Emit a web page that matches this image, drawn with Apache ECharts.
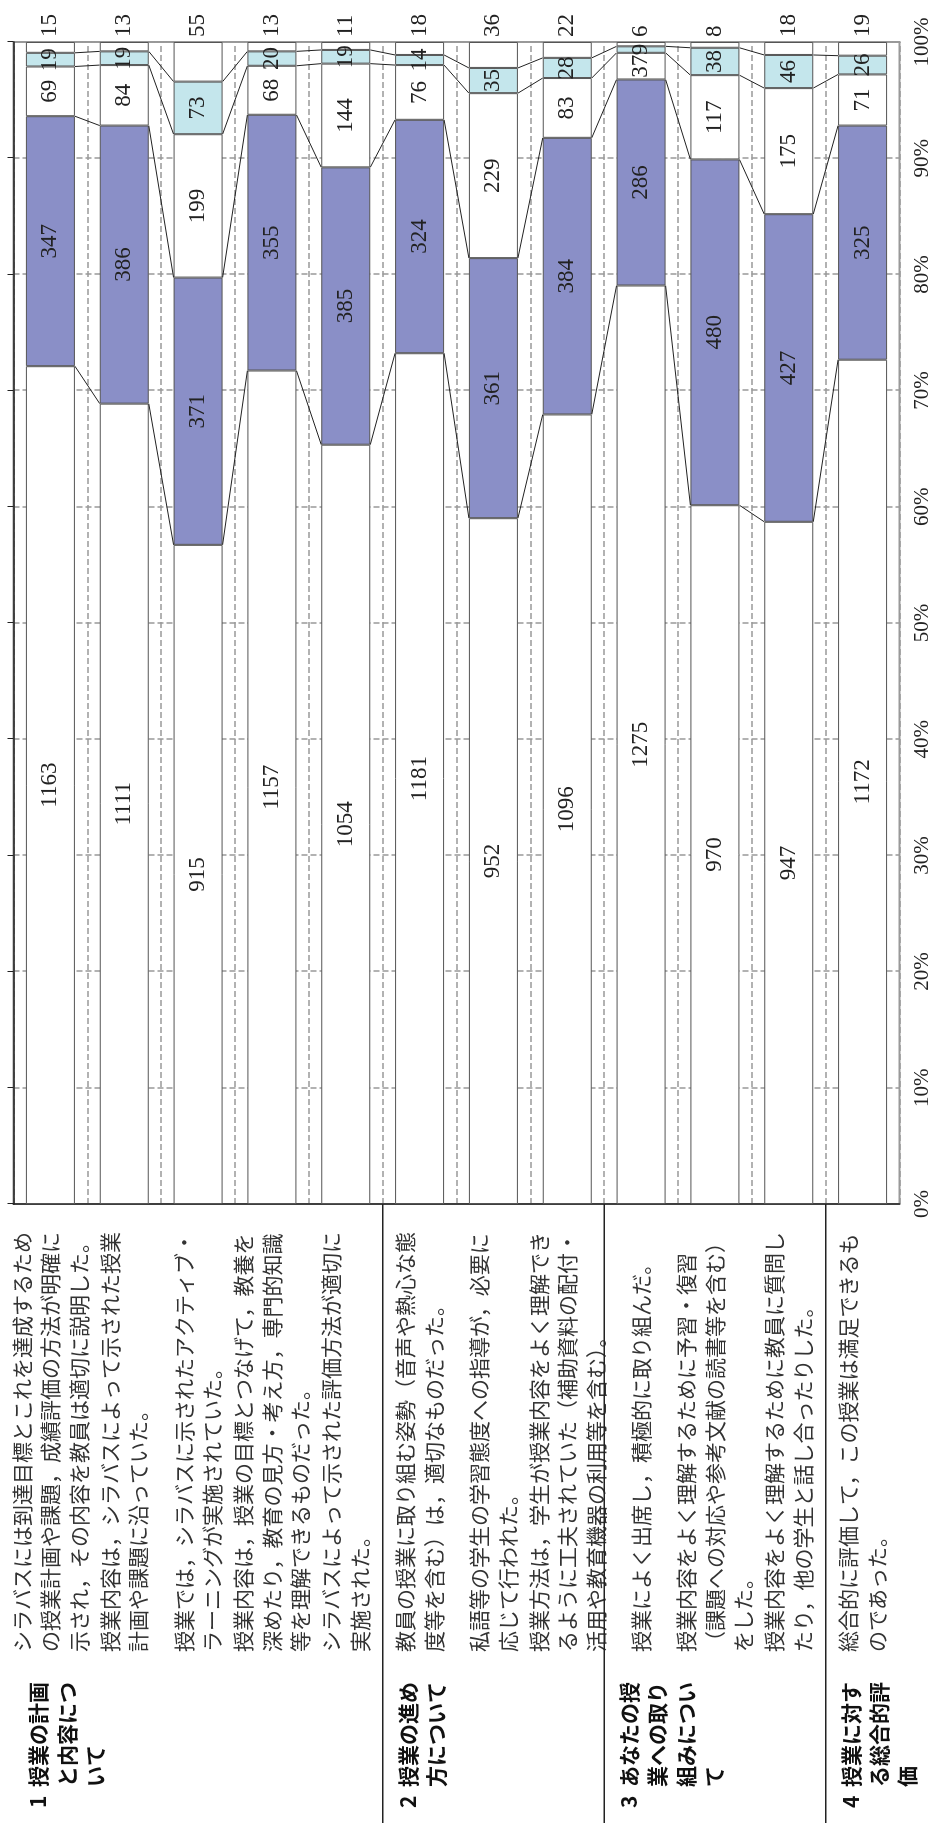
<!DOCTYPE html>
<html lang="ja">
<head>
<meta charset="utf-8">
<title>授業評価アンケート</title>
<script src="https://cdn.jsdelivr.net/npm/echarts@6.0.0/dist/echarts.min.js"></script>
<style>
html, body { margin: 0; padding: 0; width: 937px; height: 1827px; overflow: hidden; background: #fff; }
/* the chart is laid out landscape and turned a quarter turn to the left */
#chart { position: absolute; left: 0; top: 0; width: 1827px; height: 937px; transform-origin: 0 0; transform: translateY(1827px) rotate(-90deg); }
</style>
</head>
<body>
<div id="chart"></div>
<script>
const questions = [
  'シラバスには到達目標とこれを達成するため\nの授業計画や課題，成績評価の方法が明確に\n示され，その内容を教員は適切に説明した。',
  '授業内容は，シラバスによって示された授業\n計画や課題に沿っていた。',
  '授業では，シラバスに示されたアクティブ・\nラーニングが実施されていた。',
  '授業内容は，授業の目標とつなげて，教養を\n深めたり，教育の見方・考え方，専門的知識\n等を理解できるものだった。',
  'シラバスによって示された評価方法が適切に\n実施された。',
  '教員の授業に取り組む姿勢（音声や熱心な態\n度等を含む）は，適切なものだった。',
  '私語等の学生の学習態度への指導が，必要に\n応じて行われた。',
  '授業方法は，学生が授業内容をよく理解でき\nるように工夫されていた（補助資料の配付・\n活用や教育機器の利用等を含む）。',
  '授業によく出席し，積極的に取り組んだ。',
  '授業内容をよく理解するために予習・復習\n（課題への対応や参考文献の読書等を含む）\nをした。',
  '授業内容をよく理解するために教員に質問し\nたり，他の学生と話し合ったりした。',
  '総合的に評価して，この授業は満足できるも\nのであった。'
];

const groupNos = ['1', '2', '3', '4'];
const groupNames = [
  '授業の計画\nと内容につ\nいて',
  '授業の進め\n方について',
  'あなたの授\n業への取り\n組みについ\nて',
  '授業に対す\nる総合的評\n価'
];
const groupSizes = [5, 3, 3, 1];

// answer counts, one array per answer choice
const resp1 = [1163, 1111, 915, 1157, 1054, 1181, 952, 1096, 1275, 970, 947, 1172];
const resp2 = [347, 386, 371, 355, 385, 324, 361, 384, 286, 480, 427, 325];
const resp3 = [69, 84, 199, 68, 144, 76, 229, 83, 37, 117, 175, 71];
const resp4 = [19, 19, 73, 20, 19, 14, 35, 28, 9, 38, 46, 26];
const resp5 = [15, 13, 55, 13, 11, 18, 36, 22, 6, 8, 18, 19];

const respAll = [resp1, resp2, resp3, resp4, resp5];
const totals = questions.map((_, i) => respAll.reduce((s, r) => s + r[i], 0));
const pct = respAll.map(r => r.map((v, i) => v / totals[i] * 100));
const cum = [];
let run = totals.map(() => 0);
pct.forEach(p => { run = run.map((v, i) => v + p[i]); cum.push(run.slice()); });

const groupStarts = groupSizes.map((_, g) => groupSizes.slice(0, g).reduce((a, b) => a + b, 0));

const fills = ['#ffffff', '#8a8fc7', '#ffffff', '#c4e6ec', '#ffffff'];
const barHalf = 24.5;
const jp = '"Noto Sans CJK JP", "Noto Sans CJK SC", sans-serif';
const num = '"Liberation Serif", "DejaVu Serif", serif';

const barSeries = respAll.map((r, k) => ({
  type: 'bar',
  stack: 'all',
  barWidth: 49,
  data: pct[k],
  itemStyle: { color: fills[k], borderColor: '#555', borderWidth: 1 },
  label: {
    show: true,
    position: k === 4 ? 'right' : 'inside',
    distance: 5,
    formatter: p => r[p.dataIndex],
    fontFamily: num,
    fontSize: 23,
    color: '#222'
  },
  emphasis: { disabled: true }
}));

// excel style series lines between neighbouring bars
const seriesLines = {
  type: 'custom',
  silent: true,
  z: 3,
  data: questions.slice(0, -1).map((_, i) => [cum[0][i], i]),
  encode: { x: 0, y: 1 },
  renderItem: (params, api) => {
    const i = params.dataIndex;
    return {
      type: 'group',
      children: [0, 1, 2, 3].map(k => {
        const a = api.coord([cum[k][i], i]);
        const b = api.coord([cum[k][i + 1], i + 1]);
        return {
          type: 'line',
          shape: { x1: a[0], y1: a[1] + barHalf, x2: b[0], y2: b[1] - barHalf },
          style: { stroke: '#222', lineWidth: 1 }
        };
      })
    };
  }
};

// group headings and the rules between groups
const groupSeries = {
  type: 'custom',
  silent: true,
  clip: false,
  data: groupStarts.map(s => [0, s]),
  encode: { x: 0, y: 1 },
  renderItem: (params, api) => {
    const g = params.dataIndex;
    const c = api.coord([0, groupStarts[g]]);
    const band = api.size([0, 1])[1];
    const top = c[1] - band / 2;
    const children = [
      {
        type: 'text', x: 19, y: top + 25,
        style: { text: groupNos[g], fontSize: 21, fontWeight: 'bold', fontFamily: jp, fill: '#111', verticalAlign: 'middle' }
      },
      {
        type: 'text', x: 40, y: top + 25 - 14.15,
        style: { text: groupNames[g], fontSize: 21, fontWeight: 'bold', fontFamily: jp, lineHeight: 28.3, fill: '#111', verticalAlign: 'top' }
      }
    ];
    if (g > 0) {
      children.push({
        type: 'line',
        shape: { x1: 4, y1: top, x2: c[0], y2: top },
        style: { stroke: '#222', lineWidth: 1.5 }
      });
    }
    return { type: 'group', children };
  }
};

const option = {
  animation: false,
  backgroundColor: '#fff',
  grid: {
    left: 623, right: 42, top: 13.5, bottom: 37.5,
    show: true, borderColor: '#999', borderWidth: 2,
    outerBoundsMode: 'none'
  },
  xAxis: [
    {
      type: 'value', min: 0, max: 100, interval: 10, position: 'bottom',
      axisLine: { show: false }, axisTick: { show: false },
      axisLabel: { formatter: '{value}%', fontFamily: num, fontSize: 21, color: '#222', margin: 12 },
      splitLine: { show: true, lineStyle: { type: [6, 3], color: '#999', width: 1.5 } }
    },
    {
      type: 'value', min: 0, max: 100, interval: 10, position: 'top',
      axisLine: { show: true, lineStyle: { color: '#222', width: 1.5 } },
      axisTick: { show: true, length: 6, lineStyle: { color: '#222' } },
      axisLabel: { show: false }, splitLine: { show: false }
    }
  ],
  yAxis: {
    type: 'category', inverse: true, data: questions,
    axisLine: { show: true, lineStyle: { color: '#222', width: 1.5 } },
    axisTick: { show: false },
    axisLabel: { interval: 0, align: 'left', margin: 448, fontFamily: jp, fontSize: 21, lineHeight: 28.5, color: '#333' },
    splitLine: { show: true, lineStyle: { type: [6, 3], color: '#999', width: 1.5 } }
  },
  series: [...barSeries, seriesLines, groupSeries]
};

const chart = echarts.init(document.getElementById('chart'), null, { renderer: 'canvas' });
chart.setOption(option);
</script>
</body>
</html>
